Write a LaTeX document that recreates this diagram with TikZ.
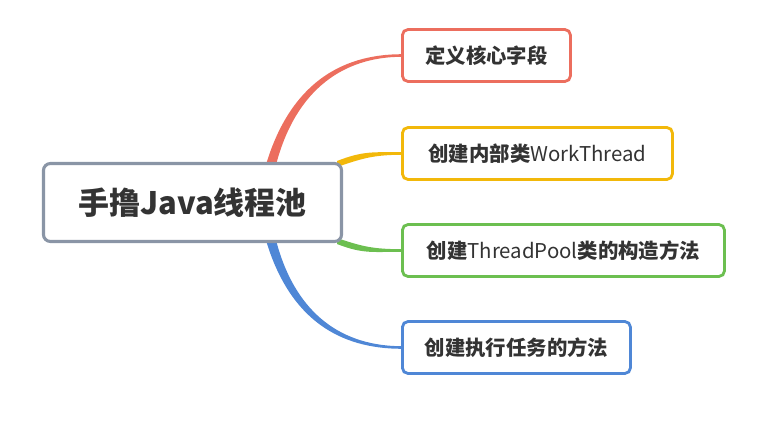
\documentclass[tikz,border=0pt]{standalone}
\usepackage{fontspec}
\setmainfont{Noto Sans CJK SC}
\usepackage{tikz}
\usetikzlibrary{positioning,calc,backgrounds}
\usepackage{xcolor}
\definecolor{cred}{HTML}{EC6E5E}
\definecolor{cyel}{HTML}{F2B80A}
\definecolor{cgrn}{HTML}{6CBF50}
\definecolor{cblu}{HTML}{4F87D6}
\definecolor{cgry}{HTML}{8A95A6}
\definecolor{ctxt}{HTML}{333333}

\begin{document}
\begin{tikzpicture}[x=0.025cm,y=-0.025cm,
  topic/.style={draw=#1,line width=2pt,rounded corners=4pt,fill=white,text=ctxt,
    minimum height=1.3cm,inner xsep=0pt,font=\fontsize{14.5}{16}\selectfont,anchor=west}]
\useasboundingbox (0,0) rectangle (784,421);
\node[draw=cgry,line width=2.2pt,rounded corners=5pt,fill=white,text=ctxt,
  minimum width=7.45cm,minimum height=1.95cm,font=\fontsize{22}{24}\selectfont\bfseries] (root) at (192.5,202.5) {手撸Java线程池};
\node[topic=cred,minimum width=4.2cm] (fields) at (401,55.5) {\bfseries 定义核心字段};
\node[topic=cyel,minimum width=6.75cm] (worker) at (401,153.5) {{\bfseries 创建内部类}WorkThread};
\node[topic=cgrn,minimum width=8.05cm] (ctor) at (401,250.5) {{\bfseries 创建}ThreadPool{\bfseries 类的构造方法}};
\node[topic=cblu,minimum width=5.7cm] (exec) at (401,347.5) {\bfseries 创建执行任务的方法};
\begin{scope}[on background layer]
% tapered branches
\fill[cred] ($(root.north)+(74,1)$) .. controls +(24,-78) and +(-62,0) .. ($(fields.west)+(1,-1.3)$)
  -- ($(fields.west)+(1,1.3)$) .. controls +(-58,0) and +(20,-74) .. ($(root.north)+(84,1)$) -- cycle;
\fill[cblu] ($(root.south)+(74,-1)$) .. controls +(24,78) and +(-62,0) .. ($(exec.west)+(1,1.3)$)
  -- ($(exec.west)+(1,-1.3)$) .. controls +(-58,0) and +(20,74) .. ($(root.south)+(84,-1)$) -- cycle;
\fill[cyel] ($(root.north east)+(-6,-1)$) .. controls +(26,-10) and +(-30,0) .. ($(worker.west)+(1,-1.3)$)
  -- ($(worker.west)+(1,1.3)$) .. controls +(-30,0) and +(24,-8) .. ($(root.north east)+(-6,5)$) -- cycle;
\fill[cgrn] ($(root.south east)+(-6,1)$) .. controls +(26,10) and +(-30,0) .. ($(ctor.west)+(1,1.3)$)
  -- ($(ctor.west)+(1,-1.3)$) .. controls +(-30,0) and +(24,8) .. ($(root.south east)+(-6,-5)$) -- cycle;
\end{scope}
\end{tikzpicture}
\end{document}
